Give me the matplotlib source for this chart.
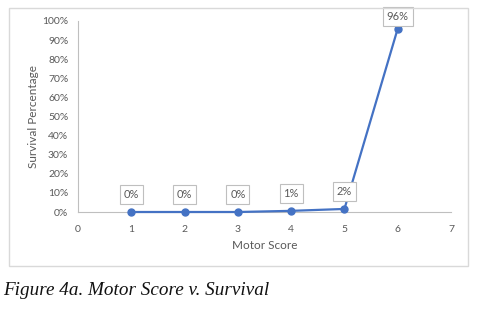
import matplotlib.pyplot as plt
from matplotlib.patches import Rectangle
from matplotlib.ticker import PercentFormatter

# data
motor_score = [1, 2, 3, 4, 5, 6]
survival = [0.0, 0.0, 0.0, 0.006, 0.016, 0.96]
label_offset = [9, 9, 9, 9, 9, 4]  # px above the point

line_color = '#4472C4'
text_color = '#595959'
axis_color = '#BFBFBF'

plt.rcParams['font.family'] = ['Lato', 'DejaVu Sans']

fig = plt.figure(figsize=(4.78, 3.09), dpi=100)

# outer chart border
fig.patches.append(Rectangle((9 / 478, 1 - 266 / 309), 459 / 478, 258 / 309,
                             transform=fig.transFigure, fill=False,
                             edgecolor='#D9D9D9', linewidth=1))

ax = fig.add_axes([78 / 478, 1 - 212 / 309, 373 / 478, 191 / 309])
ax.plot(motor_score, survival, color=line_color, linewidth=1.6,
        marker='o', markersize=5, zorder=3, clip_on=False)

for x, y, off in zip(motor_score, survival, label_offset):
    ax.annotate('{:.0%}'.format(y), (x, y), xytext=(0, off * 0.72 + 6),
                textcoords='offset points', ha='center', va='center',
                fontsize=8, color=text_color,
                bbox=dict(boxstyle='square,pad=0.35', facecolor='white',
                          edgecolor='#BFBFBF', linewidth=0.8),
                zorder=4, annotation_clip=False)

ax.set_xlim(0, 7)
ax.set_ylim(0, 1)
ax.set_xticks(range(0, 8))
ax.set_yticks([i / 10 for i in range(11)])
ax.yaxis.set_major_formatter(PercentFormatter(1.0, decimals=0))
ax.tick_params(length=0, labelsize=7.5, colors=text_color)
ax.tick_params(axis='x', pad=9)
ax.tick_params(axis='y', pad=7)

for side in ['top', 'right']:
    ax.spines[side].set_visible(False)
for side in ['left', 'bottom']:
    ax.spines[side].set_color(axis_color)
    ax.spines[side].set_linewidth(0.8)

ax.set_xlabel('Motor Score', fontsize=8.5, color=text_color, labelpad=5)
ax.set_ylabel('Survival Percentage', fontsize=8.5, color=text_color, labelpad=2)

fig.text(3 / 478, 1 - 295 / 309, 'Figure 4a. Motor Score v. Survival',
         family='Liberation Serif', style='italic', fontsize=13.8,
         color='#111111', ha='left', va='baseline')

fig.savefig('out.png', dpi=100)
